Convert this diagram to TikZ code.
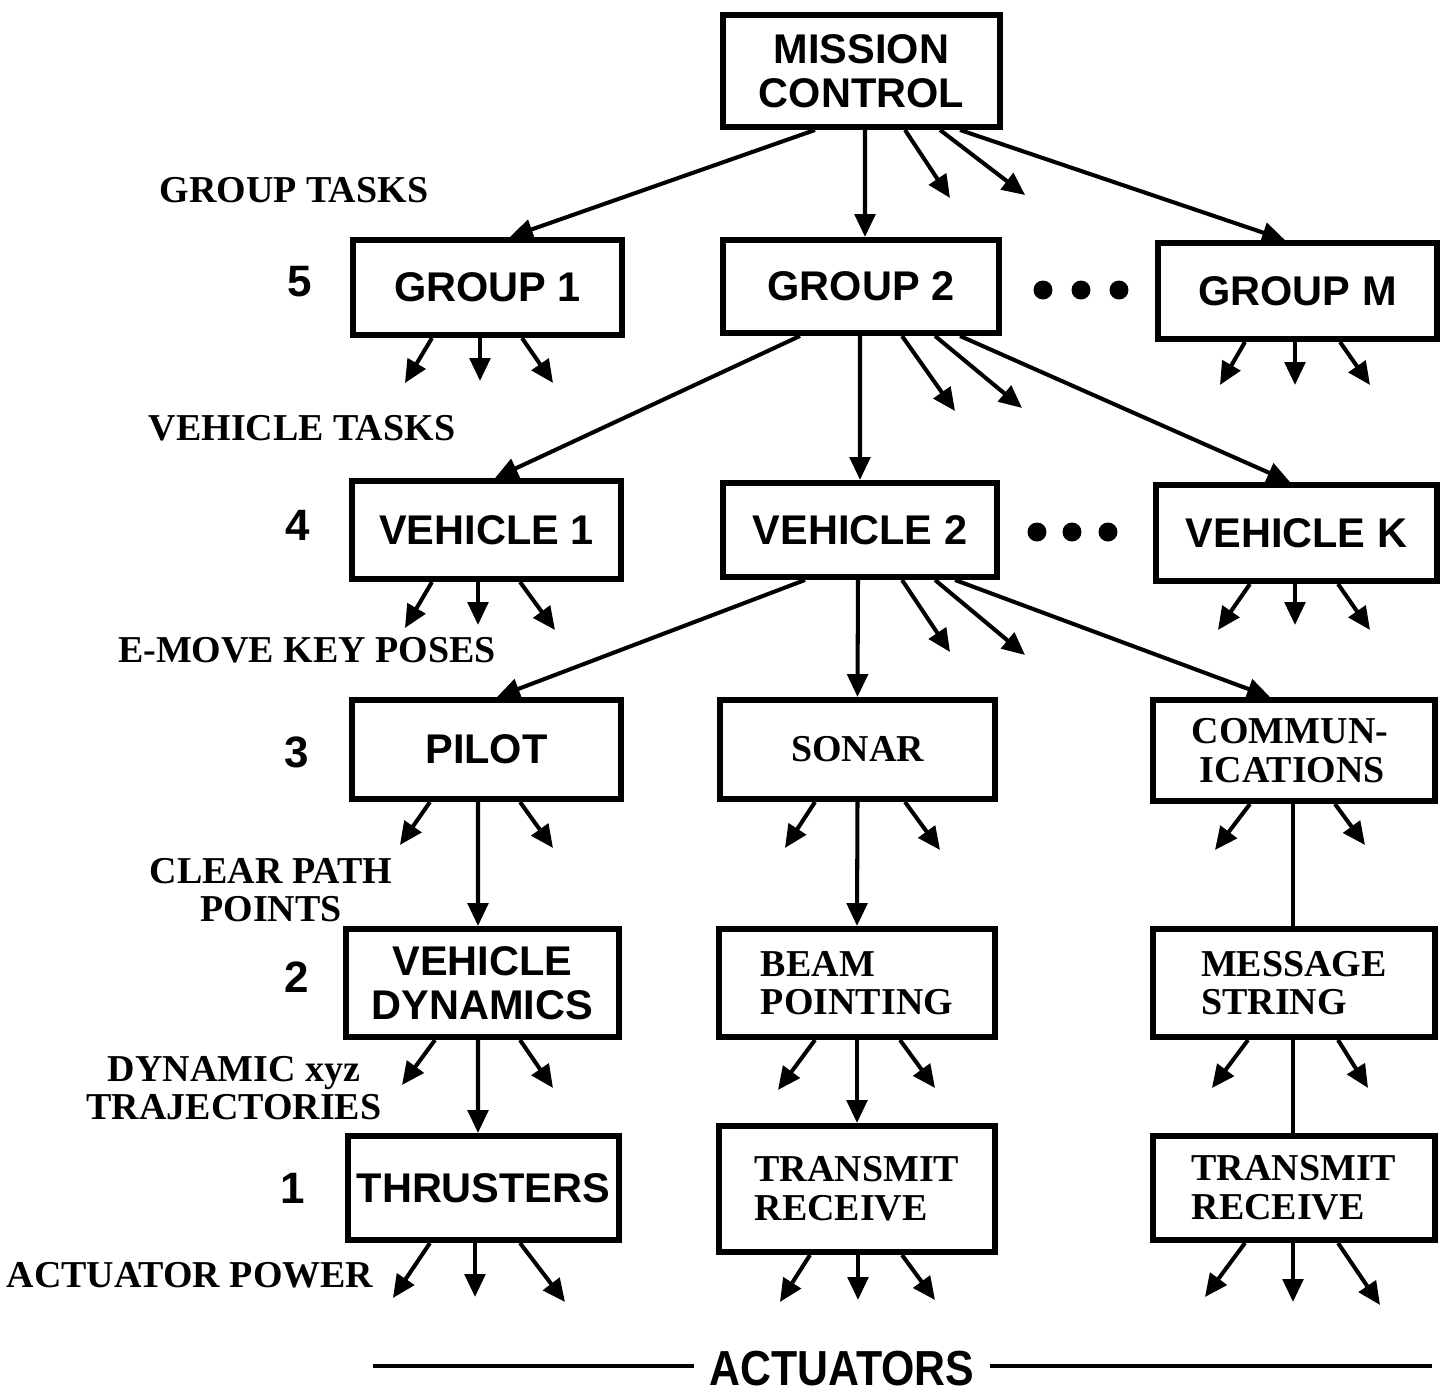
\documentclass[tikz,border=0pt]{standalone}
\usepackage{fontspec}
\setmainfont{Liberation Serif}
\setsansfont{Liberation Sans}
\usetikzlibrary{arrows.meta}

\tikzset{
  box/.style={draw, line width=1.7pt, inner sep=0pt, align=center,
              font=\sffamily\bfseries\fontsize{11.8}{12.4}\selectfont},
  serifbox/.style={box, font=\rmfamily\bfseries\fontsize{10.8}{11}\selectfont},
  lefttext/.style={align=left},
  arr/.style={line width=1.15pt, -{Triangle[length=6.5pt,width=5.8pt]}},
  link/.style={line width=1.15pt},
  lvl/.style={font=\rmfamily\bfseries\fontsize{10.8}{11}\selectfont, align=center, inner sep=0pt},
  num/.style={font=\sffamily\bfseries\fontsize{12.5}{13}\selectfont, inner sep=0pt},
  dot/.style={circle, fill, inner sep=0pt, minimum size=5.4pt},
}

\begin{document}
\begin{tikzpicture}[x=0.01cm, y=-0.01cm]
\useasboundingbox[fill=white] (0,0) rectangle (1447,1393);

% ---- level 5 and above ----
\node[box, minimum width=277*0.01cm, minimum height=112*0.01cm] (mc) at (861.5,71) {MISSION\\CONTROL};
\node[box, minimum width=269*0.01cm, minimum height=95*0.01cm] (g1) at (487.5,287.5) {GROUP 1};
\node[box, minimum width=276*0.01cm, minimum height=93*0.01cm] (g2) at (861,286.5) {GROUP 2};
\node[box, minimum width=279*0.01cm, minimum height=96*0.01cm] (gm) at (1297.5,291) {GROUP M};

% ---- level 4 ----
\node[box, minimum width=269*0.01cm, minimum height=98*0.01cm] (v1) at (486.5,530) {VEHICLE 1};
\node[box, minimum width=274*0.01cm, minimum height=94*0.01cm] (v2) at (860,530) {VEHICLE 2};
\node[box, minimum width=281*0.01cm, minimum height=96*0.01cm] (vk) at (1296.5,533) {VEHICLE K};

% ---- level 3 ----
\node[box, minimum width=269*0.01cm, minimum height=99*0.01cm] (pilot) at (486.5,749.5) {PILOT};
\node[serifbox, minimum width=275*0.01cm, minimum height=99*0.01cm] (sonar) at (857.5,749.5) {SONAR};
\node[serifbox, lefttext, minimum width=282*0.01cm, minimum height=101*0.01cm] (comm) at (1294,750.5) {\hspace*{-0.08cm}COMMUN-\\ICATIONS};

% ---- level 2 ----
\node[box, minimum width=273*0.01cm, minimum height=108*0.01cm] (vd) at (482.5,983) {VEHICLE\\DYNAMICS};
\node[serifbox, lefttext, minimum width=276*0.01cm, minimum height=108*0.01cm] (beam) at (857,983) {BEAM\\POINTING};
\node[serifbox, lefttext, minimum width=282*0.01cm, minimum height=108*0.01cm] (msg) at (1294,983) {MESSAGE\\STRING};

% ---- level 1 ----
\node[box, minimum width=271*0.01cm, minimum height=104*0.01cm] (thr) at (483.5,1188) {THRUSTERS};
\node[serifbox, lefttext, minimum width=276*0.01cm, minimum height=126*0.01cm] (trm) at (857,1189) {TRANSMIT\\RECEIVE};
\node[serifbox, lefttext, minimum width=282*0.01cm, minimum height=104*0.01cm] (trr) at (1294,1188) {TRANSMIT\\RECEIVE};

% ---- level numbers and command labels ----
\node[lvl] (lgt) at (294,190) {GROUP TASKS};
\node[num] (n5) at (300,282) {5};
\node[lvl] (lvt) at (302,428) {VEHICLE TASKS};
\node[num] (n4) at (298,525) {4};
\node[lvl] (lkp) at (307,650) {E-MOVE KEY POSES};
\node[num] (n3) at (297,752) {3};
\node[lvl] (lcp) at (271,890) {CLEAR PATH\\POINTS};
\node[num] (n2) at (297,977) {2};
\node[lvl] (ldt) at (234,1088) {DYNAMIC xyz\\TRAJECTORIES};
\node[num] (n1) at (293,1188) {1};
\node[lvl] (lap) at (190,1275) {ACTUATOR POWER};

% ---- ellipses between boxes ----
\node[dot] (d1) at (1043,290) {};
\node[dot] (d2) at (1081,290) {};
\node[dot] (d3) at (1119,290) {};
\node[dot] (d4) at (1037,532) {};
\node[dot] (d5) at (1072,532) {};
\node[dot] (d6) at (1108,532) {};

% ---- mission control outputs ----
\draw[arr] ([xshift=-4.65mm]mc.south) -- ([xshift=2.25mm]g1.north);
\draw[arr] ([xshift=0.35mm]mc.south) -- ([xshift=0.4mm]g2.north);
\draw[arr] ([xshift=4.35mm]mc.south) -- ++(45,68);
\draw[arr] ([xshift=7.85mm]mc.south) -- ++(85,65);
\draw[arr] ([xshift=9.85mm]mc.south) -- ([xshift=-1.25mm]gm.north);

% ---- group outputs ----
\draw[arr] ([xshift=-5.55mm]g1.south) -- ++(-27,45);
\draw[arr] ([xshift=-0.75mm]g1.south) -- ++(0,43);
\draw[arr] ([xshift=3.45mm]g1.south) -- ++(31,45);

\draw[arr] ([xshift=-6.1mm]g2.south) -- ([xshift=0.85mm]v1.north);
\draw[arr] ([xshift=-0.1mm]g2.south) -- (v2.north);
\draw[arr] ([xshift=4.1mm]g2.south) -- ++(53,75);
\draw[arr] ([xshift=7.4mm]g2.south) -- ++(87,72);
\draw[arr] ([xshift=9.9mm]g2.south) -- ([xshift=-0.65mm]vk.north);

\draw[arr] ([xshift=-5.25mm]gm.south) -- ++(-25,43);
\draw[arr] ([xshift=-0.25mm]gm.south) -- ++(0,43);
\draw[arr] ([xshift=4.25mm]gm.south) -- ++(30,43);

% ---- vehicle outputs ----
\draw[arr] ([xshift=-5.45mm]v1.south) -- ++(-27,46);
\draw[arr] ([xshift=-0.85mm]v1.south) -- ++(0,43);
\draw[arr] ([xshift=3.35mm]v1.south) -- ++(35,48);

\draw[arr] ([xshift=-5.5mm]v2.south) -- ([xshift=1.05mm]pilot.north);
\draw[arr] ([xshift=-0.2mm]v2.south) -- (sonar.north);
\draw[arr] ([xshift=4.2mm]v2.south) -- ++(48,72);
\draw[arr] ([xshift=7.5mm]v2.south) -- ++(90,75);
\draw[arr] ([xshift=9.5mm]v2.south) -- ([xshift=-2.4mm]comm.north);

\draw[arr] ([xshift=-4.65mm]vk.south) -- ++(-32,46);
\draw[arr] ([xshift=-0.15mm]vk.south) -- ++(0,41);
\draw[arr] ([xshift=4.15mm]vk.south) -- ++(32,46);

% ---- level 3 outputs ----
\draw[arr] ([xshift=-5.65mm]pilot.south) -- ++(-30,43);
\draw[arr] ([xshift=-0.85mm]pilot.south) -- ([xshift=-0.45mm]vd.north);
\draw[arr] ([xshift=3.35mm]pilot.south) -- ++(33,46);

\draw[arr] ([xshift=-4.25mm]sonar.south) -- ++(-30,46);
\draw[arr] (sonar.south) -- (beam.north);
\draw[arr] ([xshift=4.75mm]sonar.south) -- ++(35,48);

\draw[arr] ([xshift=-4.4mm]comm.south) -- ++(-35,46);
\draw[link] ([xshift=-0.1mm]comm.south) -- ([xshift=-0.1mm]msg.north);
\draw[arr] ([xshift=4.1mm]comm.south) -- ++(30,41);

% ---- level 2 outputs ----
\draw[arr] ([xshift=-4.75mm]vd.south) -- ++(-33,45);
\draw[arr] ([xshift=-0.45mm]vd.south) -- ([xshift=-0.55mm]thr.north);
\draw[arr] ([xshift=3.75mm]vd.south) -- ++(33,48);

\draw[arr] ([xshift=-4.2mm]beam.south) -- ++(-37,50);
\draw[arr] (beam.south) -- (trm.north);
\draw[arr] ([xshift=4.3mm]beam.south) -- ++(35,48);

\draw[arr] ([xshift=-4.6mm]msg.south) -- ++(-36,48);
\draw[link] ([xshift=-0.1mm]msg.south) -- ([xshift=-0.1mm]trr.north);
\draw[arr] ([xshift=4.4mm]msg.south) -- ++(30,48);

% ---- actuator outputs ----
\draw[arr] ([xshift=-5.35mm]thr.south) -- ++(-37,55);
\draw[arr] ([xshift=-0.85mm]thr.south) -- ++(0,54);
\draw[arr] ([xshift=3.65mm]thr.south) -- ++(45,59);

\draw[arr] ([xshift=-4.7mm]trm.south) -- ++(-30,47);
\draw[arr] ([xshift=0.1mm]trm.south) -- ++(0,45);
\draw[arr] ([xshift=4.5mm]trm.south) -- ++(33,45);

\draw[arr] ([xshift=-4.9mm]trr.south) -- ++(-40,54);
\draw[arr] ([xshift=-0.1mm]trr.south) -- ++(0,59);
\draw[arr] ([xshift=4.4mm]trr.south) -- ++(42,62);

% ---- actuators caption ----
\node[font=\sffamily\bfseries\fontsize{14}{14}\selectfont, xscale=0.87, inner sep=0pt] (act) at (842,1369) {ACTUATORS};
\coordinate (al) at (373,1366);
\coordinate (ar) at (1432,1366);
\draw[link] ([xshift=-1.5mm]act.west |- al) -- (al);
\draw[link] ([xshift=1.5mm]act.east |- ar) -- (ar);
\end{tikzpicture}
\end{document}
